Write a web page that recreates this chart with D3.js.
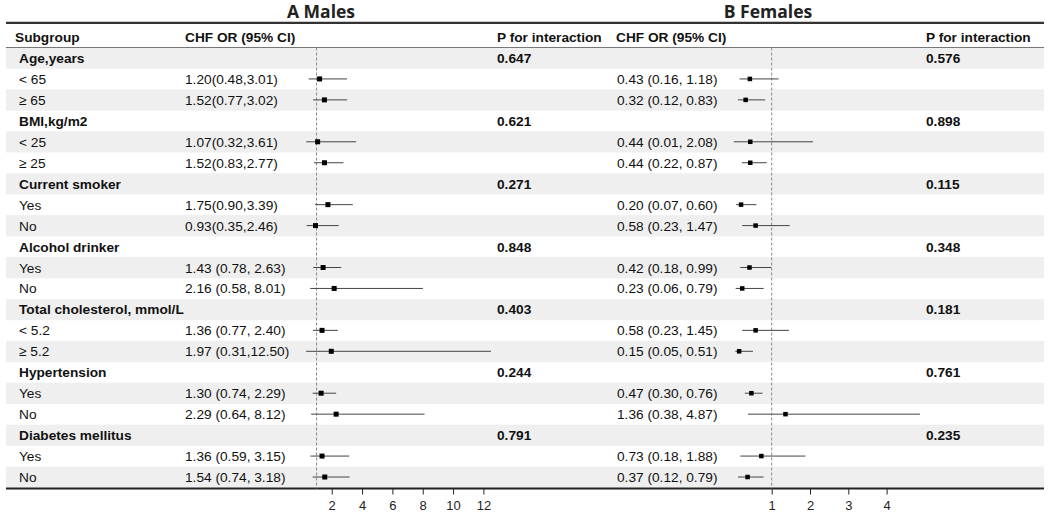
<!DOCTYPE html>
<html>
<head>
<meta charset="utf-8">
<script src="https://cdn.jsdelivr.net/npm/d3@7"></script>
<style>
  body { margin: 0; background: #fff; }
  svg { display: block; font-family: "Liberation Sans", Arial, sans-serif; }
  .axis text { font-size: 13px; fill: #222; }
  .axis line { stroke: #222; }
</style>
</head>
<body>
<svg id="chart" width="1049" height="518"></svg>
<script>
// subgroup rows: group headers and their levels
const groups = ['Age,years', 'BMI,kg/m2', 'Current smoker', 'Alcohol drinker',
  'Total cholesterol, mmol/L', 'Hypertension', 'Diabetes mellitus'];
const levels = [['< 65', '≥ 65'], ['< 25', '≥ 25'], ['Yes', 'No'], ['Yes', 'No'],
  ['< 5.2', '≥ 5.2'], ['Yes', 'No'], ['Yes', 'No']];

// males
const maleP = ['0.647', '0.621', '0.271', '0.848', '0.403', '0.244', '0.791'];
const maleOR = [1.20, 1.52, 1.07, 1.52, 1.75, 0.93, 1.43, 2.16, 1.36, 1.97, 1.30, 2.29, 1.36, 1.54];
const maleLo = [0.48, 0.77, 0.32, 0.83, 0.90, 0.35, 0.78, 0.58, 0.77, 0.31, 0.74, 0.64, 0.59, 0.74];
const maleHi = [3.01, 3.02, 3.61, 2.77, 3.39, 2.46, 2.63, 8.01, 2.40, 12.50, 2.29, 8.12, 3.15, 3.18];
const maleText = ['1.20(0.48,3.01)', '1.52(0.77,3.02)', '1.07(0.32,3.61)', '1.52(0.83,2.77)',
  '1.75(0.90,3.39)', '0.93(0.35,2.46)', '1.43 (0.78, 2.63)', '2.16 (0.58, 8.01)',
  '1.36 (0.77, 2.40)', '1.97 (0.31,12.50)', '1.30 (0.74, 2.29)', '2.29 (0.64, 8.12)',
  '1.36 (0.59, 3.15)', '1.54 (0.74, 3.18)'];
const maleTicks = [2, 4, 6, 8, 10, 12];

// females
const femaleP = ['0.576', '0.898', '0.115', '0.348', '0.181', '0.761', '0.235'];
const femaleOR = [0.43, 0.32, 0.44, 0.44, 0.20, 0.58, 0.42, 0.23, 0.58, 0.15, 0.47, 1.36, 0.73, 0.37];
const femaleLo = [0.16, 0.12, 0.01, 0.22, 0.07, 0.23, 0.18, 0.06, 0.23, 0.05, 0.30, 0.38, 0.18, 0.12];
const femaleHi = [1.18, 0.83, 2.08, 0.87, 0.60, 1.47, 0.99, 0.79, 1.45, 0.51, 0.76, 4.87, 1.88, 0.79];
const femaleText = ['0.43 (0.16, 1.18)', '0.32 (0.12, 0.83)', '0.44 (0.01, 2.08)', '0.44 (0.22, 0.87)',
  '0.20 (0.07, 0.60)', '0.58 (0.23, 1.47)', '0.42 (0.18, 0.99)', '0.23 (0.06, 0.79)',
  '0.58 (0.23, 1.45)', '0.15 (0.05, 0.51)', '0.47 (0.30, 0.76)', '1.36 (0.38, 4.87)',
  '0.73 (0.18, 1.88)', '0.37 (0.12, 0.79)'];
const femaleTicks = [1, 2, 3, 4];

const svg = d3.select('#chart');
const xLeft = 6, xRight = 1044;
const yTop = 47.5, yBottom = 487.5;
const fs = 13.7;

// flatten into table rows
const rows = [];
groups.forEach((g, gi) => {
  rows.push({ type: 'group', label: g, gi });
  levels[gi].forEach((l, li) => rows.push({ type: 'level', label: l, k: gi * 2 + li }));
});

const y = d3.scaleBand().domain(d3.range(rows.length)).range([yTop, yBottom]);

// zebra shading
svg.append('g').selectAll('rect')
  .data(rows)
  .join('rect')
  .attr('x', xLeft).attr('width', xRight - xLeft)
  .attr('y', (_, i) => y(i)).attr('height', y.bandwidth() + 0.3)
  .attr('fill', (_, i) => (i % 2 === 0 ? '#efefef' : 'none'));

// rules
svg.append('line').attr('x1', xLeft).attr('x2', xRight).attr('y1', 22.8).attr('y2', 22.8)
  .attr('stroke', '#333').attr('stroke-width', 2.2);
svg.append('line').attr('x1', xLeft).attr('x2', xRight).attr('y1', yTop).attr('y2', yTop)
  .attr('stroke', '#555').attr('stroke-width', 0.8);
svg.append('line').attr('x1', xLeft).attr('x2', xRight).attr('y1', yBottom + 1).attr('y2', yBottom + 1)
  .attr('stroke', '#222').attr('stroke-width', 1.8);

// titles
svg.append('text').attr('x', 321).attr('y', 17.5).attr('text-anchor', 'middle')
  .style('font-family', '"Open Sans", sans-serif').style('font-weight', 700).style('font-size', '17.5px')
  .attr('fill', '#222').text('A Males');
svg.append('text').attr('x', 768).attr('y', 17.5).attr('text-anchor', 'middle')
  .style('font-family', '"Open Sans", sans-serif').style('font-weight', 700).style('font-size', '17.5px')
  .attr('fill', '#222').text('B Females');

// header row
const headers = [['Subgroup', 15], ['CHF OR (95% CI)', 185], ['P for interaction', 497],
  ['CHF OR (95% CI)', 616], ['P for interaction', 926]];
svg.append('g').selectAll('text')
  .data(headers)
  .join('text')
  .attr('x', d => d[1])
  .attr('y', 42)
  .style('font-weight', 700).style('font-size', fs + 'px')
  .attr('fill', '#111')
  .text(d => d[0]);

const baseline = i => y(i) + y.bandwidth() / 2 + 5;

// subgroup labels
svg.append('g').selectAll('text')
  .data(rows)
  .join('text')
  .attr('x', 19)
  .attr('y', (_, i) => baseline(i))
  .style('font-weight', d => (d.type === 'group' ? 700 : 400))
  .style('font-size', fs + 'px')
  .attr('fill', '#111')
  .text(d => d.label);

function panel(opts) {
  const { ors, los, his, texts, ps, ticks, domain, range, textX, pX, sq } = opts;
  const x = d3.scaleLinear().domain(domain).range(range);
  const g = svg.append('g');

  // OR text
  g.append('g').selectAll('text')
    .data(rows.filter(r => r.type === 'level'))
    .join('text')
    .attr('x', textX)
    .attr('y', d => baseline(rows.indexOf(d)))
    .style('font-size', fs + 'px').attr('fill', '#111')
    .text(d => texts[d.k]);

  // p values
  g.append('g').selectAll('text')
    .data(rows.filter(r => r.type === 'group'))
    .join('text')
    .attr('x', pX)
    .attr('y', d => baseline(rows.indexOf(d)))
    .style('font-weight', 700).style('font-size', fs + 'px').attr('fill', '#111')
    .text(d => ps[d.gi]);

  // reference line at OR = 1
  g.append('line')
    .attr('x1', x(1)).attr('x2', x(1)).attr('y1', yTop).attr('y2', yBottom + 1)
    .attr('stroke', '#888').attr('stroke-width', 1).attr('stroke-dasharray', '3,2');

  const lv = rows.map((r, i) => ({ ...r, i })).filter(r => r.type === 'level');
  const cy = d => y(d.i) + y.bandwidth() / 2;

  g.append('g').selectAll('line')
    .data(lv)
    .join('line')
    .attr('x1', d => x(los[d.k])).attr('x2', d => x(his[d.k]))
    .attr('y1', cy).attr('y2', cy)
    .attr('stroke', '#444').attr('stroke-width', 1);

  g.append('g').selectAll('rect')
    .data(lv)
    .join('rect')
    .attr('x', d => x(ors[d.k]) - sq / 2).attr('y', d => cy(d) - sq / 2)
    .attr('width', sq).attr('height', sq)
    .attr('fill', '#000');

  const axis = g.append('g')
    .attr('class', 'axis')
    .attr('transform', `translate(0,${yBottom + 1})`)
    .call(d3.axisBottom(x).tickValues(ticks).tickSize(6).tickPadding(6).tickFormat(d3.format('d')));
  axis.select('.domain').remove();
  axis.selectAll('text').style('font-family', '"Liberation Sans", Arial, sans-serif');
}

panel({
  ors: maleOR, los: maleLo, his: maleHi, texts: maleText, ps: maleP,
  ticks: maleTicks, domain: [0, 12], range: [301.4, 483.4],
  textX: 185, pX: 497, sq: 5
});

panel({
  ors: femaleOR, los: femaleLo, his: femaleHi, texts: femaleText, ps: femaleP,
  ticks: femaleTicks, domain: [0, 4], range: [733.4, 886.6],
  textX: 617, pX: 926, sq: 4.5
});
</script>
</body>
</html>
